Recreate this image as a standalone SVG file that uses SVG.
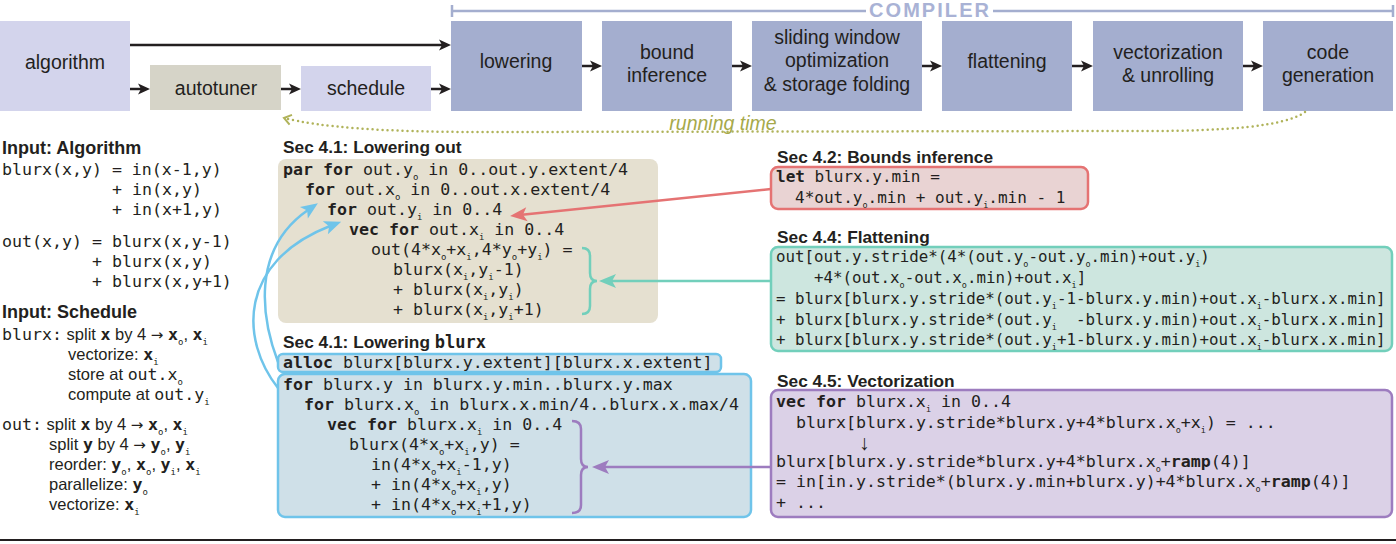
<svg xmlns="http://www.w3.org/2000/svg" width="1396" height="544" viewBox="0 0 1396 544">
<style>
text{font-family:"Liberation Sans",Arial,sans-serif;fill:#231f20}
.m{font-family:"DejaVu Sans Mono",monospace;font-size:16.6px}
.m2{font-family:"DejaVu Sans Mono",monospace;font-size:15.8px}
.m3{font-family:"DejaVu Sans Mono",monospace;font-size:16px}
.m4{font-family:"DejaVu Sans Mono",monospace;font-size:16.6px}
.b{font-weight:bold}
.s{font-size:9px;font-weight:normal}
.s2{font-size:8.5px;font-weight:normal}
.h{font-weight:bold;font-size:17.3px}
.hi{font-weight:bold;font-size:18px}
.bx{font-size:19.5px;text-anchor:middle}
.t{font-size:16.5px}
.ar{font-family:"DejaVu Sans",sans-serif;font-size:15px}
.p1{fill:#d3d4ec}
.p2{fill:#a4aecf}
.arr{stroke:#231f20;stroke-width:2.5;fill:none;marker-end:url(#ak)}
.ca{stroke-width:2.5;fill:none}
</style>
<defs>
<marker id="ak" viewBox="-5 -6 14 12" markerWidth="14" markerHeight="12" refX="0" refY="0" orient="auto" markerUnits="userSpaceOnUse"><path d="M8,0 L-4,-5.5 L-1,0 L-4,5.5 Z" fill="#231f20"/></marker>
<marker id="aRed" viewBox="-6 -8 20 16" markerWidth="20" markerHeight="16" refX="0" refY="0" orient="auto" markerUnits="userSpaceOnUse"><path d="M12,0 L-5,-7 L-1,0 L-5,7 Z" fill="#e57373"/></marker>
<marker id="aTeal" viewBox="-6 -8 20 16" markerWidth="20" markerHeight="16" refX="0" refY="0" orient="auto" markerUnits="userSpaceOnUse"><path d="M12,0 L-5,-7 L-1,0 L-5,7 Z" fill="#72cfbb"/></marker>
<marker id="aPur" viewBox="-6 -8 20 16" markerWidth="20" markerHeight="16" refX="0" refY="0" orient="auto" markerUnits="userSpaceOnUse"><path d="M12,0 L-5,-7 L-1,0 L-5,7 Z" fill="#9d7cbf"/></marker>
<marker id="aBlue" viewBox="-6 -8 20 16" markerWidth="20" markerHeight="16" refX="0" refY="0" orient="auto" markerUnits="userSpaceOnUse"><path d="M12,0 L-5,-7 L-1,0 L-5,7 Z" fill="#6fc4ea"/></marker>
<marker id="aOl" viewBox="-10 -7 12 14" markerWidth="12" markerHeight="14" refX="0" refY="0" orient="auto" markerUnits="userSpaceOnUse"><path d="M-7,-5 L0,0 L-7,5" fill="none" stroke="#b0b35a" stroke-width="2"/></marker>
</defs>

<!-- pipeline nodes -->
<g id="algorithm"><rect x="0" y="21" width="130" height="90" class="p1"/><text x="65" y="69" class="bx">algorithm</text></g>
<g id="autotuner"><rect x="150" y="65" width="131" height="45" fill="#d6d4c8"/><text x="216" y="95" class="bx">autotuner</text></g>
<g id="schedule"><rect x="301" y="66" width="130" height="45" class="p1"/><text x="366" y="95" class="bx">schedule</text></g>
<g id="lowering"><rect x="451" y="21" width="131" height="90" class="p2"/><text x="516" y="68" class="bx">lowering</text></g>
<g id="bound-inference"><rect x="602" y="21" width="130" height="90" class="p2"/><text x="667" y="59" class="bx">bound</text><text x="667" y="82" class="bx">inference</text></g>
<g id="sliding-window"><rect x="752" y="21" width="170" height="90" class="p2"/><text x="837" y="44" class="bx">sliding window</text><text x="837" y="67" class="bx">optimization</text><text x="837" y="91" class="bx">&amp; storage folding</text></g>
<g id="flattening"><rect x="942" y="21" width="130" height="90" class="p2"/><text x="1007" y="68" class="bx">flattening</text></g>
<g id="vectorization"><rect x="1093" y="21" width="150" height="90" class="p2"/><text x="1168" y="59" class="bx">vectorization</text><text x="1168" y="82" class="bx">&amp; unrolling</text></g>
<g id="code-generation"><rect x="1263" y="21" width="130" height="90" class="p2"/><text x="1328" y="59" class="bx">code</text><text x="1328" y="82" class="bx">generation</text></g>

<g id="compiler-bracket">
<path d="M452,5 V17 M452,11 H866 M993,11 H1393 M1393,5 V17" stroke="#a4aecf" stroke-width="2.5" fill="none"/>
<text x="869" y="17" font-size="20" font-weight="bold" style="fill:#a9b2d5" textLength="120">COMPILER</text>
</g>

<!-- left column -->
<g id="input-algorithm">
<text x="2" y="154" class="hi">Input: Algorithm</text>
<text x="2" y="175" class="m">blurx(x,y) = in(x-1,y)</text>
<text x="112" y="195" class="m">+ in(x,y)</text>
<text x="112" y="215" class="m">+ in(x+1,y)</text>
<text x="2" y="247" class="m">out(x,y) = blurx(x,y-1)</text>
<text x="92" y="267" class="m">+ blurx(x,y)</text>
<text x="92" y="287" class="m">+ blurx(x,y+1)</text>
</g>
<g id="input-schedule">
<text x="2" y="318" class="hi">Input: Schedule</text>
<text x="2" y="340" class="t"><tspan class="m">blurx:</tspan> split <tspan class="m b">x</tspan> by 4 <tspan class="ar">→</tspan> <tspan class="m b">x</tspan><tspan class="m s" dy="5">o</tspan><tspan dy="-5">, </tspan><tspan class="m b">x</tspan><tspan class="m s" dy="5">i</tspan></text>
<text x="68" y="360" class="t">vectorize: <tspan class="m b">x</tspan><tspan class="m s" dy="5">i</tspan></text>
<text x="68" y="380" class="t">store at <tspan class="m">out.x</tspan><tspan class="m s" dy="5">o</tspan></text>
<text x="68" y="400" class="t">compute at <tspan class="m">out.y</tspan><tspan class="m s" dy="5">i</tspan></text>
<text x="2" y="430" class="t"><tspan class="m">out:</tspan> split <tspan class="m b">x</tspan> by 4 <tspan class="ar">→</tspan> <tspan class="m b">x</tspan><tspan class="m s" dy="5">o</tspan><tspan dy="-5">, </tspan><tspan class="m b">x</tspan><tspan class="m s" dy="5">i</tspan></text>
<text x="49" y="450" class="t">split <tspan class="m b">y</tspan> by 4 <tspan class="ar">→</tspan> <tspan class="m b">y</tspan><tspan class="m s" dy="5">o</tspan><tspan dy="-5">, </tspan><tspan class="m b">y</tspan><tspan class="m s" dy="5">i</tspan></text>
<text x="49" y="470" class="t">reorder: <tspan class="m b">y</tspan><tspan class="m s" dy="5">o</tspan><tspan dy="-5">, </tspan><tspan class="m b">x</tspan><tspan class="m s" dy="5">o</tspan><tspan dy="-5">, </tspan><tspan class="m b">y</tspan><tspan class="m s" dy="5">i</tspan><tspan dy="-5">, </tspan><tspan class="m b">x</tspan><tspan class="m s" dy="5">i</tspan></text>
<text x="49" y="490" class="t">parallelize: <tspan class="m b">y</tspan><tspan class="m s" dy="5">o</tspan></text>
<text x="49" y="510" class="t">vectorize: <tspan class="m b">x</tspan><tspan class="m s" dy="5">i</tspan></text>
</g>

<!-- Sec 4.1 lowering out -->
<g id="lowering-out">
<text x="283" y="153" class="h">Sec 4.1: Lowering out</text>
<rect x="278" y="159" width="380" height="164" rx="8" fill="#e5e0d0"/>
<text x="283" y="175" class="m"><tspan class="b">par for</tspan> out.y<tspan class="s" dy="5">o</tspan><tspan dy="-5"> in 0..out.y.extent/4</tspan></text>
<text x="305" y="195" class="m"><tspan class="b">for</tspan> out.x<tspan class="s" dy="5">o</tspan><tspan dy="-5"> in 0..out.x.extent/4</tspan></text>
<text x="327" y="215" class="m"><tspan class="b">for</tspan> out.y<tspan class="s" dy="5">i</tspan><tspan dy="-5"> in 0..4</tspan></text>
<text x="349" y="235" class="m"><tspan class="b">vec for</tspan> out.x<tspan class="s" dy="5">i</tspan><tspan dy="-5"> in 0..4</tspan></text>
<text x="371" y="255" class="m">out(4*x<tspan class="s" dy="5">o</tspan><tspan dy="-5">+x</tspan><tspan class="s" dy="5">i</tspan><tspan dy="-5">,4*y</tspan><tspan class="s" dy="5">o</tspan><tspan dy="-5">+y</tspan><tspan class="s" dy="5">i</tspan><tspan dy="-5">) =</tspan></text>
<text x="393" y="275" class="m">blurx(x<tspan class="s" dy="5">i</tspan><tspan dy="-5">,y</tspan><tspan class="s" dy="5">i</tspan><tspan dy="-5">-1)</tspan></text>
<text x="393" y="295" class="m">+ blurx(x<tspan class="s" dy="5">i</tspan><tspan dy="-5">,y</tspan><tspan class="s" dy="5">i</tspan><tspan dy="-5">)</tspan></text>
<text x="393" y="315" class="m">+ blurx(x<tspan class="s" dy="5">i</tspan><tspan dy="-5">,y</tspan><tspan class="s" dy="5">i</tspan><tspan dy="-5">+1)</tspan></text>
</g>

<!-- Sec 4.1 lowering blurx -->
<g id="lowering-blurx">
<text x="283" y="348" class="h">Sec 4.1: Lowering <tspan class="m b" style="font-size:17px">blurx</tspan></text>
<rect x="278" y="354" width="443" height="18" rx="5" fill="#cfe0e8" stroke="#6fc4ea" stroke-width="2.5"/>
<text x="283" y="368" class="m"><tspan class="b">alloc</tspan> blurx[blurx.y.extent][blurx.x.extent]</text>
<rect x="278" y="374" width="473" height="143" rx="7" fill="#cfe0e8" stroke="#6fc4ea" stroke-width="2.5"/>
<text x="283" y="390" class="m"><tspan class="b">for</tspan> blurx.y in blurx.y.min..blurx.y.max</text>
<text x="304" y="410" class="m"><tspan class="b">for</tspan> blurx.x<tspan class="s" dy="5">o</tspan><tspan dy="-5"> in blurx.x.min/4..blurx.x.max/4</tspan></text>
<text x="327" y="430" class="m"><tspan class="b">vec for</tspan> blurx.x<tspan class="s" dy="5">i</tspan><tspan dy="-5"> in 0..4</tspan></text>
<text x="349" y="450" class="m">blurx(4*x<tspan class="s" dy="5">o</tspan><tspan dy="-5">+x</tspan><tspan class="s" dy="5">i</tspan><tspan dy="-5">,y) =</tspan></text>
<text x="371" y="470" class="m">in(4*x<tspan class="s" dy="5">o</tspan><tspan dy="-5">+x</tspan><tspan class="s" dy="5">i</tspan><tspan dy="-5">-1,y)</tspan></text>
<text x="371" y="490" class="m">+ in(4*x<tspan class="s" dy="5">o</tspan><tspan dy="-5">+x</tspan><tspan class="s" dy="5">i</tspan><tspan dy="-5">,y)</tspan></text>
<text x="371" y="510" class="m">+ in(4*x<tspan class="s" dy="5">o</tspan><tspan dy="-5">+x</tspan><tspan class="s" dy="5">i</tspan><tspan dy="-5">+1,y)</tspan></text>
</g>

<!-- Sec 4.2 -->
<g id="bounds-inference">
<text x="777" y="163" class="h">Sec 4.2: Bounds inference</text>
<rect x="771" y="167" width="317" height="42" rx="7" fill="#e9d3d3" stroke="#e57373" stroke-width="2.5"/>
<text x="776" y="182" class="m3"><tspan class="b">let</tspan> blurx.y.min =</text>
<text x="795" y="203" class="m3">4*out.y<tspan class="s2" dy="4.5">o</tspan><tspan dy="-4.5">.min + out.y</tspan><tspan class="s2" dy="4.5">i</tspan><tspan dy="-4.5">.min - 1</tspan></text>
</g>

<!-- Sec 4.4 -->
<g id="flattening-sec">
<text x="777" y="243" class="h">Sec 4.4: Flattening</text>
<rect x="771" y="247" width="621" height="104" rx="7" fill="#cde6df" stroke="#72cfbb" stroke-width="2.5"/>
<text x="776" y="262" class="m2">out[out.y.stride*(4*(out.y<tspan class="s2" dy="4.5">o</tspan><tspan dy="-4.5">-out.y</tspan><tspan class="s2" dy="4.5">o</tspan><tspan dy="-4.5">.min)+out.y</tspan><tspan class="s2" dy="4.5">i</tspan><tspan dy="-4.5">)</tspan></text>
<text x="814" y="283" class="m2">+4*(out.x<tspan class="s2" dy="4.5">o</tspan><tspan dy="-4.5">-out.x</tspan><tspan class="s2" dy="4.5">o</tspan><tspan dy="-4.5">.min)+out.x</tspan><tspan class="s2" dy="4.5">i</tspan><tspan dy="-4.5">]</tspan></text>
<text x="776" y="304" class="m2">= blurx[blurx.y.stride*(out.y<tspan class="s2" dy="4.5">i</tspan><tspan dy="-4.5">-1-blurx.y.min)+out.x</tspan><tspan class="s2" dy="4.5">i</tspan><tspan dy="-4.5">-blurx.x.min]</tspan></text>
<text x="776" y="325" class="m2" xml:space="preserve">+ blurx[blurx.y.stride*(out.y<tspan class="s2" dy="4.5">i</tspan><tspan dy="-4.5">  -blurx.y.min)+out.x</tspan><tspan class="s2" dy="4.5">i</tspan><tspan dy="-4.5">-blurx.x.min]</tspan></text>
<text x="776" y="345" class="m2">+ blurx[blurx.y.stride*(out.y<tspan class="s2" dy="4.5">i</tspan><tspan dy="-4.5">+1-blurx.y.min)+out.x</tspan><tspan class="s2" dy="4.5">i</tspan><tspan dy="-4.5">-blurx.x.min]</tspan></text>
</g>

<!-- Sec 4.5 -->
<g id="vectorization-sec">
<text x="777" y="387" class="h">Sec 4.5: Vectorization</text>
<rect x="771" y="390" width="621" height="127" rx="7" fill="#dbd1e7" stroke="#9d7cbf" stroke-width="2.5"/>
<text x="776" y="407" class="m4"><tspan class="b">vec for</tspan> blurx.x<tspan class="s2" dy="4.5">i</tspan><tspan dy="-4.5"> in 0..4</tspan></text>
<text x="796" y="428" class="m4">blurx[blurx.y.stride*blurx.y+4*blurx.x<tspan class="s2" dy="4.5">o</tspan><tspan dy="-4.5">+x</tspan><tspan class="s2" dy="4.5">i</tspan><tspan dy="-4.5">) = ...</tspan></text>
<text x="859" y="450" font-family="DejaVu Sans, sans-serif" font-size="21">↓</text>
<text x="776" y="467" class="m4">blurx[blurx.y.stride*blurx.y+4*blurx.x<tspan class="s2" dy="4.5">o</tspan><tspan dy="-4.5">+</tspan><tspan class="b">ramp</tspan>(4)]</text>
<text x="776" y="487" class="m4">= in[in.y.stride*(blurx.y.min+blurx.y)+4*blurx.x<tspan class="s2" dy="4.5">o</tspan><tspan dy="-4.5">+</tspan><tspan class="b">ramp</tspan>(4)]</text>
<text x="776" y="508" class="m4">+ ...</text>
</g>

<!-- connectors -->
<g id="connectors">
<path class="arr" d="M130,45 H443"/>
<path class="arr" d="M130,89 H142"/>
<path class="arr" d="M281,89 H293"/>
<path class="arr" d="M431,89 H443"/>
<path class="arr" d="M582,66 H594"/>
<path class="arr" d="M732,66 H744"/>
<path class="arr" d="M922,66 H934"/>
<path class="arr" d="M1072,66 H1085"/>
<path class="arr" d="M1243,66 H1255"/>
<path d="M1305,112 C1285,127 1220,131 1150,131 L480,132 C380,132 320,127 284,118" fill="none" stroke="#b0b35a" stroke-width="2.5" stroke-linecap="round" stroke-dasharray="0 5" marker-end="url(#aOl)"/>
<text x="723" y="130" font-size="19.5" font-style="italic" style="fill:#a6a94a" text-anchor="middle">running time</text>
<path class="ca" stroke="#e57373" d="M771,189 L522,214.8" marker-end="url(#aRed)"/>
<path class="ca" stroke="#72cfbb" d="M582,248 Q590,248 590,256 L590,273 Q590,281 597,281 Q590,281 590,289 L590,306 Q590,314 582,314"/>
<path class="ca" stroke="#72cfbb" d="M771,281 H611" marker-end="url(#aTeal)"/>
<path class="ca" stroke="#9d7cbf" d="M572,421 Q581,421 581,429 L581,459 Q581,467 588,467 Q581,467 581,475 L581,505 Q581,513 572,513"/>
<path class="ca" stroke="#9d7cbf" d="M771,467 H604" marker-end="url(#aPur)"/>
<path class="ca" stroke="#6fc4ea" d="M278,362 C262,320 250,250 308,210" marker-end="url(#aBlue)"/>
<path class="ca" stroke="#6fc4ea" d="M278,388 C240,340 238,262 330,226" marker-end="url(#aBlue)"/>
</g>

<line x1="0" y1="540" x2="1396" y2="540" stroke="#231f20" stroke-width="2"/>
</svg>
